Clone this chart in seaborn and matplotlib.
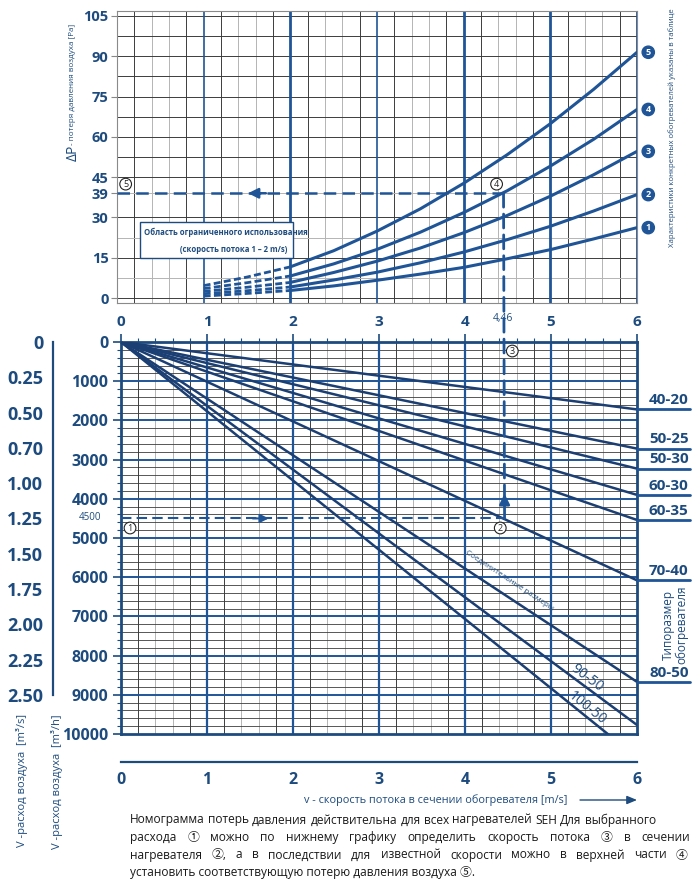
import numpy as np
import matplotlib.pyplot as plt
import seaborn as sns
from matplotlib.patches import ConnectionPatch, Rectangle

sns.set_style("white")
plt.rcParams['font.family'] = ['Open Sans', 'Noto Sans CJK JP', 'DejaVu Sans']

NAVY = '#1d4b7e'
BLUE = '#1f5597'
LINE = '#1c3f73'
GRID = '#3c3c3c'
LGRAY = '#b4b4b4'

# --- верхний график: потеря давления ΔP [Pa] по скорости v [m/s]
v_dashed = [1.0, 1.5, 2.0]
v_solid = [2.0, 2.5, 3.0, 3.5, 4.0, 4.5, 5.0, 5.5, 6.0]
curve_ids = ['1', '2', '3', '4', '5']
dp_dashed = [
    [0.7, 1.7, 2.8],
    [1.6, 2.7, 4.1],
    [2.5, 4.0, 5.8],
    [3.5, 5.7, 8.2],
    [4.6, 7.8, 11.6],
]
dp_solid = [
    [2.8, 4.5, 6.6, 8.9, 11.4, 14.6, 18.0, 22.0, 26.2],
    [4.1, 6.7, 9.6, 13.1, 17.1, 21.7, 26.7, 32.4, 38.5],
    [5.8, 9.5, 13.7, 18.6, 24.3, 30.7, 37.9, 45.9, 54.6],
    [8.2, 12.7, 18.1, 24.5, 31.8, 39.9, 49.1, 59.1, 70.2],
    [11.6, 17.6, 24.9, 33.2, 42.7, 53.3, 64.9, 77.7, 91.5],
]
dp_ticks = [0, 15, 30, 39, 45, 60, 75, 90, 105]

# --- нижний график: расход V [m3/h] по скорости v, линии из нуля
sizes = ['40-20', '50-25', '50-30', '60-30', '60-35', '70-40', '80-50', '90-50', '100-50']
flow_at_6 = [1720, 2720, 3230, 3900, 4540, 6080, 8670, 9770, 10600]
flow_ticks = [0, 1000, 2000, 3000, 4000, 5000, 6000, 7000, 8000, 9000, 10000]
m3s_ticks = [0, 0.25, 0.50, 0.75, 1.00, 1.25, 1.50, 1.75, 2.00, 2.25, 2.50]
m3s_labels = ['0', '0.25', '0.50', '0.70', '1.00', '1.25', '1.50', '1.75', '2.00', '2.25', '2.50']

# пример
ex_flow = 4500
ex_v = 4.46
ex_dp = 39

fig = plt.figure(figsize=(7, 8.85), dpi=100)
ax_t = fig.add_axes([0.16714, 0.6572, 0.74286, 0.3308])
ax_b = fig.add_axes([0.17286, 0.17062, 0.73714, 0.44294])

# ================= верхний график =================
ax_t.set_xlim(0, 6)
ax_t.set_ylim(-2, 107)
for x in np.arange(0.2, 6.0, 0.2):
    frac = round(x % 1, 1)
    if frac in (0.0, 1.0):
        continue
    c = LGRAY if frac in (0.4, 0.6) else GRID
    ax_t.axvline(x, color=c, lw=0.7, zorder=1)
for y in [0, 7.5, 15, 22.5, 30, 39, 45, 52.5, 60, 67.5, 75, 82.5, 90, 97.5, 105]:
    c = LGRAY if y in (7.5, 22.5, 39) else GRID
    ax_t.plot([0, 6], [y, y], color=c, lw=0.7, zorder=1)
for x in [1, 3]:
    ax_t.axvline(x, color=BLUE, lw=1.2, zorder=2)
for x in [2, 4, 5, 6]:
    ax_t.axvline(x, color=BLUE, lw=2.0, zorder=2)

for i in range(5):
    sns.lineplot(x=v_dashed, y=dp_dashed[i], ax=ax_t, color=BLUE, lw=2,
                 linestyle=(0, (2.5, 1.2)), zorder=4)
    sns.lineplot(x=v_solid, y=dp_solid[i], ax=ax_t, color=BLUE, lw=2.2, zorder=4)
    ax_t.text(6.13, dp_solid[i][-1], curve_ids[i], color='white', fontsize=6.5,
              fontweight='bold', ha='center', va='center', clip_on=False,
              bbox=dict(boxstyle='circle,pad=0.18', fc=BLUE, ec=BLUE))

ax_t.set_yticks(dp_ticks)
ax_t.set_yticklabels([str(t) for t in dp_ticks], fontsize=10.5, fontweight='bold', color=NAVY)
ax_t.set_xticks([])
ax_t.tick_params(axis='y', left=True, direction='out', length=4, width=0.8, color='#888888', pad=2)
for s in ax_t.spines.values():
    s.set_color('#8a8a8a')
    s.set_linewidth(0.8)
ax_t.set_xlabel('')
ax_t.set_ylabel('')

# область ограниченного использования
ax_t.add_patch(Rectangle((0.27, 14.9), 1.76, 13.5, fc='white', ec=NAVY, lw=1.0, zorder=5))
ax_t.text(0.31, 24.3, 'Область ограниченного использования', fontsize=5.6,
          fontweight='bold', color=NAVY, va='center', zorder=6)
ax_t.text(1.97, 18.0, '(скорость потока 1 – 2 m/s)', fontsize=5.6,
          fontweight='bold', color=NAVY, va='center', ha='right', zorder=6)

# пример: горизонталь ΔP = 39
ax_t.plot([0, ex_v], [ex_dp, ex_dp], color=BLUE, lw=1.8, linestyle=(0, (5, 2.5)), zorder=6)
ax_t.annotate('', xy=(1.48, ex_dp), xytext=(1.75, ex_dp),
              arrowprops=dict(arrowstyle='-|>,head_width=0.3,head_length=0.6', color=BLUE, lw=1.8),
              zorder=7)

circ = dict(boxstyle='circle,pad=0.15', fc='white', ec='#222222', lw=0.8)
ax_t.text(4.38, 42.4, '4', fontsize=6.5, ha='center', va='center', color='#222222', bbox=circ, zorder=8)
ax_t.text(0.10, 42.4, '5', fontsize=6.5, ha='center', va='center', color='#222222', bbox=circ, zorder=8)

# ================= нижний график =================
ax_b.set_xlim(0, 6)
ax_b.set_ylim(10000, 0)
for x in np.arange(0.2, 6.0, 0.2):
    frac = round(x % 1, 1)
    if frac in (0.0, 1.0):
        continue
    c = LGRAY if frac in (0.4, 0.6) else GRID
    ax_b.axvline(x, color=c, lw=0.7, zorder=1)
for y in range(200, 10000, 200):
    if y % 1000 == 0:
        ax_b.axhline(y, color=BLUE, lw=1.4, zorder=2)
    else:
        ax_b.axhline(y, color=GRID, lw=0.6, zorder=1)
for x in range(1, 6):
    ax_b.axvline(x, color=BLUE, lw=1.6, zorder=2)

for s, q in zip(sizes, flow_at_6):
    sns.lineplot(x=[0, 6], y=[0, q], ax=ax_b, color=LINE, lw=1.8, zorder=4)

# подписи типоразмеров справа
for s, q in zip(sizes[:7], flow_at_6[:7]):
    ax_b.plot([6, 6.62], [q, q], color=BLUE, lw=2, clip_on=False, zorder=4)
    ax_b.text(6.60, q - 60, s, fontsize=11, fontweight='bold', color=NAVY,
              ha='right', va='bottom', clip_on=False)

for s in ax_b.spines.values():
    s.set_color(NAVY)
    s.set_linewidth(2)

ax_b.set_yticks(flow_ticks)
ax_b.set_yticklabels([str(t) for t in flow_ticks], fontsize=11.5, fontweight='bold', color=NAVY)
ax_b.set_yticks(np.arange(0, 10001, 200), minor=True)
ax_b.xaxis.tick_top()
ax_b.set_xticks(range(7))
ax_b.set_xticklabels([str(t) for t in range(7)], fontsize=11, fontweight='bold', color=NAVY)
ax_b.set_xticks(np.arange(0, 6.01, 0.2), minor=True)
ax_b.tick_params(which='major', direction='out', length=6, width=1.2, color=NAVY, pad=3)
ax_b.tick_params(which='minor', direction='out', length=3, width=0.8, color=NAVY)
ax_b.tick_params(axis='y', which='both', left=True, right=False)
ax_b.set_xlabel('')
ax_b.set_ylabel('')

# пример: расход 4500
ax_b.plot([0, ex_v], [ex_flow, ex_flow], color=BLUE, lw=1.5, linestyle=(0, (5, 2.5)), zorder=6)
ax_b.annotate('', xy=(1.75, ex_flow), xytext=(1.5, ex_flow),
              arrowprops=dict(arrowstyle='-|>,head_width=0.25,head_length=0.5', color=BLUE, lw=1.5),
              zorder=7)
ax_b.annotate('', xy=(ex_v, 3800), xytext=(ex_v, 4150),
              arrowprops=dict(arrowstyle='-|>,head_width=0.3,head_length=0.6', color=BLUE, lw=2),
              zorder=7)
ax_b.text(0.105, 4745, '1', fontsize=6.5, ha='center', va='center', color='#222222', bbox=circ, zorder=8)
ax_b.text(4.41, 4745, '2', fontsize=6.5, ha='center', va='center', color='#222222', bbox=circ, zorder=8)
ax_b.text(4.55, 230, '3', fontsize=6.5, ha='center', va='center', color='#222222', bbox=circ, zorder=8)

# вертикаль v = 4.46 через оба графика
con = ConnectionPatch(xyA=(ex_v, ex_dp), coordsA=ax_t.transData,
                      xyB=(ex_v, ex_flow), coordsB=ax_b.transData,
                      color=BLUE, lw=2, linestyle=(0, (5, 2.5)), zorder=9)
fig.add_artist(con)
fig.text(503 / 700, 1 - 318 / 885, '4,46', fontsize=7.5, color=NAVY, ha='center', va='center')
fig.text(101 / 700, 1 - 518 / 885, '4500', fontsize=7, color=NAVY, ha='right', va='center')

# подписи вдоль линий
fig.canvas.draw()
def line_angle(q):
    p0 = ax_b.transData.transform((0, 0))
    p1 = ax_b.transData.transform((6, q))
    return np.degrees(np.arctan2(p1[1] - p0[1], p1[0] - p0[0]))

ax_b.text(5.42, 8560, '90-50', fontsize=10, color=NAVY, ha='center', va='center',
          rotation=line_angle(flow_at_6[7]), rotation_mode='anchor', zorder=6)
ax_b.text(5.42, 9330, '100-50', fontsize=10, color=NAVY, ha='center', va='center',
          rotation=line_angle(flow_at_6[8]), rotation_mode='anchor', zorder=6)
ax_b.text(4.52, 6080, 'Соединительные размеры', fontsize=5.8, color=NAVY, ha='center', va='center',
          rotation=line_angle(flow_at_6[6]), rotation_mode='anchor', zorder=6)
fig.text(675 / 700, 1 - 625 / 885, 'Типоразмер\nобогревателя', fontsize=8.5, color=NAVY,
         rotation=90, ha='center', va='center', linespacing=1.0)

# ось m3/s слева
ax_s = fig.add_axes([53 / 700, 0.17062, 0.0005, 0.44294])
ax_s.set_ylim(10000 / 3600, 0)
ax_s.set_xticks([])
for k in ['top', 'bottom', 'right']:
    ax_s.spines[k].set_visible(False)
ax_s.spines['left'].set_bounds(0, 2.5)
ax_s.spines['left'].set_color(NAVY)
ax_s.spines['left'].set_linewidth(1.6)
ax_s.set_yticks(m3s_ticks)
ax_s.set_yticklabels(m3s_labels, fontsize=13, fontweight='bold', color=NAVY)
ax_s.set_yticks(np.arange(0, 2.501, 0.05), minor=True)
ax_s.tick_params(which='major', direction='out', length=4, width=1.2, color=NAVY, pad=3)
ax_s.tick_params(which='minor', direction='out', length=2, width=0.7, color=NAVY)
ax_s.patch.set_alpha(0)

# нижняя шкала скорости
ax_v = fig.add_axes([0.17286, 1 - 762 / 885, 0.73714, 0.0005])
ax_v.set_xlim(0, 6)
ax_v.set_yticks([])
for k in ['top', 'left', 'right']:
    ax_v.spines[k].set_visible(False)
ax_v.spines['bottom'].set_color(NAVY)
ax_v.spines['bottom'].set_linewidth(1.6)
ax_v.set_xticks(range(7))
ax_v.set_xticklabels([str(t) for t in range(7)], fontsize=11.5, fontweight='bold', color=NAVY)
ax_v.set_xticks(np.arange(0, 6.01, 0.2), minor=True)
ax_v.tick_params(which='major', direction='in', length=5, width=1.2, color=NAVY, pad=7)
ax_v.tick_params(which='minor', direction='in', length=2.5, width=0.7, color=NAVY)
ax_v.patch.set_alpha(0)

fig.text(436 / 700, 1 - 800 / 885, 'v - скорость потока в сечении обогревателя [m/s]',
         fontsize=7.8, color=NAVY, ha='center', va='center')
fig.add_artist(ConnectionPatch(xyA=(580 / 700, 1 - 800 / 885), xyB=(637 / 700, 1 - 800 / 885),
                               coordsA='figure fraction', coordsB='figure fraction',
                               arrowstyle='-|>,head_width=0.25,head_length=0.6',
                               color=NAVY, lw=1))

# подписи осей
fig.text(73 / 700, 1 - 153 / 885, 'ΔP', fontsize=10, color=NAVY, rotation=90, ha='center', va='center')
fig.text(73 / 700, 1 - 84 / 885, '- потеря давления воздуха [Pa]', fontsize=5.8, color=NAVY,
         rotation=90, ha='center', va='center')
fig.text(672 / 700, 1 - 128 / 885, 'Характеристики конкретных обогревателей указаны в таблице',
         fontsize=5.6, color=NAVY, rotation=90, ha='center', va='center')
fig.text(22 / 700, 1 - 780 / 885, 'V -расход воздуха  [m³/s]', fontsize=8, color=NAVY,
         rotation=90, ha='center', va='center')
fig.text(57 / 700, 1 - 782 / 885, 'V -расход воздуха  [m³/h]', fontsize=8, color=NAVY,
         rotation=90, ha='center', va='center')

# пояснение внизу, выровненное по ширине
para = [
    ('Номограмма потерь давления действительна для всех нагревателей SEH Для выбранного', 656),
    ('расхода ① можно по нижнему графику определить скорость потока ③ в сечении', 690),
    ('нагревателя ②, а в последствии для известной скорости можно в верхней части ④', 688),
    ('установить соответствующую потерю давления воздуха ⑤.', None),
]
renderer = fig.canvas.get_renderer()
W = fig.bbox.width
x0 = 130
for row, (line, x1) in enumerate(para):
    y = 1 - (820 + row * 17.5) / 885
    if x1 is None:
        fig.text(x0 / W, y, line, fontsize=8.6, color='#1a1a1a', va='center')
        continue
    words = line.split(' ')
    texts = [fig.text(0, y, w, fontsize=8.6, color='#1a1a1a', va='center') for w in words]
    widths = [t.get_window_extent(renderer).width for t in texts]
    gap = ((x1 - x0) - sum(widths)) / (len(words) - 1)
    x = x0
    for t, w in zip(texts, widths):
        t.set_x(x / W)
        x += w + gap

fig.savefig('out.png', dpi=100)
